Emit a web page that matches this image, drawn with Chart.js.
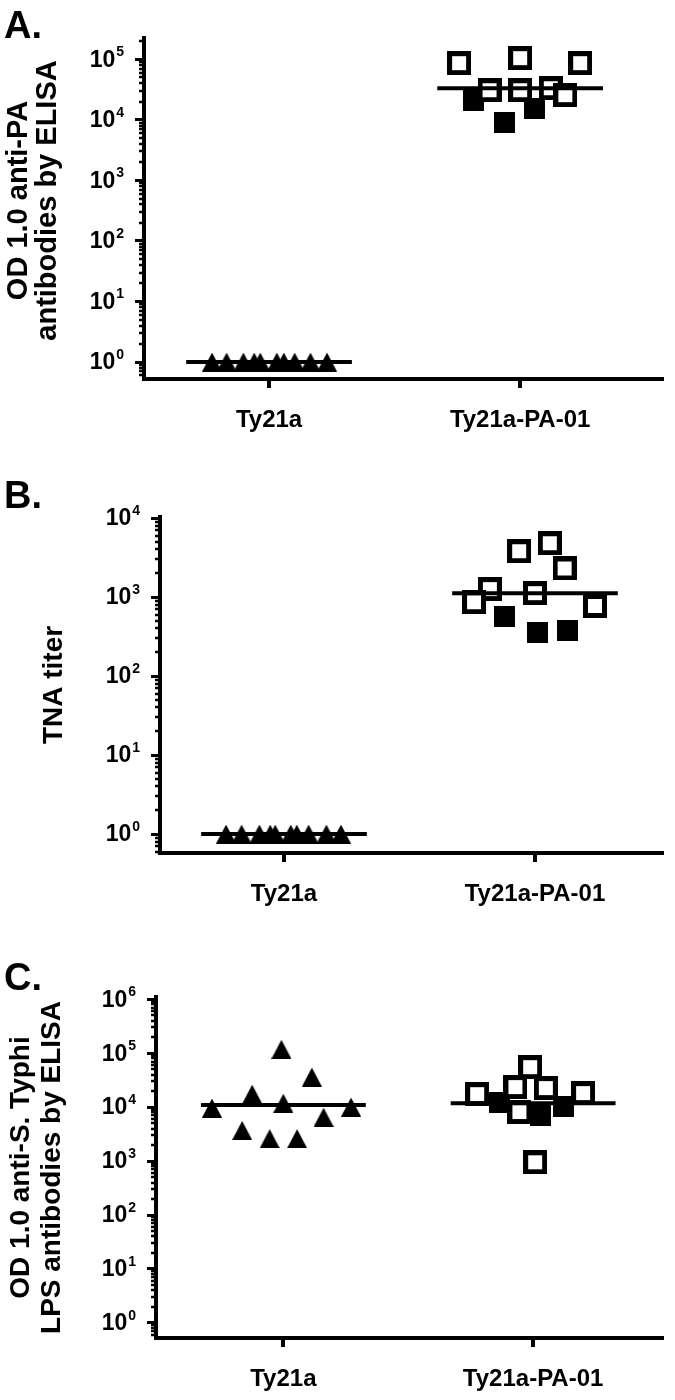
<!DOCTYPE html>
<html>
<head>
<meta charset="utf-8">
<title>Ty21a vs Ty21a-PA-01</title>
<script src="https://cdn.jsdelivr.net/npm/chart.js@4.4.1/dist/chart.umd.min.js"></script>
<style>
  html, body { margin: 0; padding: 0; background: #fff; }
  #wrap { position: relative; width: 675px; height: 1400px; overflow: hidden; }
  #wrap canvas { position: absolute; left: 0; }
</style>
</head>
<body>
<div id="wrap">
  <canvas id="chartA" width="675" height="450" style="top:0"></canvas>
  <canvas id="chartB" width="675" height="470" style="top:450px"></canvas>
  <canvas id="chartC" width="675" height="480" style="top:920px"></canvas>
</div>
<script>
'use strict';

// ---------- data ----------
const categories = ['Ty21a', 'Ty21a-PA-01'];

// A. OD 1.0 anti-PA antibodies (ELISA)
const aTy21a          = [1, 1, 1, 1, 1, 1, 1, 1, 1, 1];
const aTy21aJitter    = [-0.227, -0.169, -0.102, -0.059, -0.035, 0.031, 0.059, 0.102, 0.165, 0.231];
const aPaOpen         = [86000, 104000, 86000, 30800, 30800, 33200, 25500];
const aPaOpenJitter   = [-0.243, 0, 0.239, -0.122, 0, 0.122, 0.18];
const aPaFilled       = [21000, 9100, 15500];
const aPaFilledJitter = [-0.184, -0.063, 0.059];
const aMedians        = [1, 33200];
const aYTicks         = [1, 10, 100, 1000, 10000, 100000];
const aYRange         = [0.525, 224000];
const aXRange         = [0.502, 2.565];

// B. TNA titer
const bTy21a          = [1, 1, 1, 1, 1, 1, 1, 1, 1, 1];
const bTy21aJitter    = [-0.231, -0.169, -0.098, -0.055, -0.035, 0.027, 0.051, 0.098, 0.169, 0.227];
const bPaOpen         = [3800, 4800, 2300, 1260, 860, 1120, 770];
const bPaOpenJitter   = [-0.063, 0.059, 0.118, -0.18, -0.243, 0, 0.239];
const bPaFilled       = [575, 360, 380];
const bPaFilledJitter = [-0.122, 0.008, 0.129];
const bMedians        = [1, 1120];
const bYTicks         = [1, 10, 100, 1000, 10000];
const bYRange         = [0.575, 10300];
const bXRange         = [0.506, 2.506];

// C. OD 1.0 anti-S. Typhi LPS antibodies (ELISA)
const cTy21a          = [9600, 17400, 118000, 11800, 36000, 6500, 10000, 3700, 2600, 2600];
const cTy21aJitter    = [-0.286, -0.125, -0.008, 0, 0.114, 0.161, 0.271, -0.165, -0.055, 0.055];
const cPaOpen         = [17400, 55000, 23500, 22500, 18200, 8100, 950];
const cPaOpenJitter   = [-0.224, -0.012, -0.071, 0.051, 0.2, -0.055, 0.008];
const cPaFilled       = [12400, 7100, 10400];
const cPaFilledJitter = [-0.133, 0.031, 0.122];
const cMedians        = [11000, 11800];
const cYTicks         = [1, 10, 100, 1000, 10000, 100000, 1000000];
const cYRange         = [0.525, 1100000];
const cXRange         = [0.49, 2.516];

const FONT = "'Liberation Sans', Arial, Helvetica, sans-serif";

// ---------- marker images ----------
function makeImg(w, h, draw) {
  const c = document.createElement('canvas');
  c.width = w; c.height = h;
  draw(c.getContext('2d'), w, h);
  return c;
}
const TRIANGLE = makeImg(20, 19, (g, w, h) => {
  g.fillStyle = '#000';
  g.beginPath(); g.moveTo(0, h); g.lineTo(w / 2, 0); g.lineTo(w, h); g.closePath(); g.fill();
});
const SQ_OPEN = makeImg(24, 24, (g) => {
  g.fillStyle = '#000'; g.fillRect(0, 0, 24, 24);
  g.fillStyle = '#fff'; g.fillRect(5, 5, 14, 14);
});
const SQ_FILLED = makeImg(21, 21, (g) => { g.fillStyle = '#000'; g.fillRect(0, 0, 21, 21); });

function pts(cat, vals, jitter) {
  return vals.map((v, i) => ({ x: cat + jitter[i], y: v }));
}

function pointSet(data, img, order) {
  return { type: 'scatter', data, pointStyle: img, pointRadius: 12, pointHoverRadius: 12, order };
}

const HALF = 0.33; // half width of median bar (category units)
function medianSet(cat, m) {
  return {
    type: 'line', data: [{ x: cat - HALF, y: m }, { x: cat + HALF, y: m }],
    borderColor: '#000', borderWidth: 4, pointRadius: 0, fill: false, order: 0
  };
}

// ---------- axis labels, minor ticks, panel letters ----------
const panelDecor = {
  id: 'panelDecor',
  afterDraw(chart, args, opts) {
    const { ctx, chartArea } = chart;
    const ys = chart.scales.y;
    const left = chartArea.left;
    ctx.save();
    ctx.fillStyle = '#000';
    ctx.strokeStyle = '#000';

    // minor ticks (2..9 x 10^k)
    ctx.lineWidth = 2.5;
    const lo = Math.floor(Math.log10(ys.min));
    const hi = Math.ceil(Math.log10(ys.max));
    for (let k = lo; k <= hi; k++) {
      for (let m = 2; m <= 9; m++) {
        const v = m * Math.pow(10, k);
        if (v < ys.min || v > ys.max) continue;
        const py = Math.round(ys.getPixelForValue(v));
        ctx.beginPath(); ctx.moveTo(left - 5, py); ctx.lineTo(left, py); ctx.stroke();
      }
    }

    // tick labels 10^n
    opts.yTicks.forEach((v) => {
      const py = ys.getPixelForValue(v);
      const e = String(Math.round(Math.log10(v)));
      ctx.font = `bold 14px ${FONT}`;
      const ew = ctx.measureText(e).width;
      ctx.textAlign = 'right';
      ctx.textBaseline = 'alphabetic';
      const xr = left - 20;
      ctx.fillText(e, xr, py - 3);
      ctx.font = `bold 23px ${FONT}`;
      ctx.textBaseline = 'middle';
      ctx.fillText('10', xr - ew - 1, py + 1);
    });

    // y title
    ctx.font = `bold ${opts.titleSize}px ${FONT}`;
    ctx.textAlign = 'center';
    ctx.textBaseline = 'middle';
    const cy = (chartArea.top + chartArea.bottom) / 2 + (opts.titleShift || 0);
    opts.title.forEach((line, i) => {
      ctx.save();
      ctx.translate(opts.titleX[i], cy);
      ctx.rotate(-Math.PI / 2);
      ctx.fillText(line, 0, 0);
      ctx.restore();
    });

    // panel letter
    ctx.font = `bold 38px ${FONT}`;
    ctx.textAlign = 'left';
    ctx.textBaseline = 'alphabetic';
    ctx.fillText(opts.letter, 4, opts.letterY);
    ctx.restore();
  }
};

function buildPanel(id, p) {
  const datasets = [
    medianSet(1, p.medians[0]),
    medianSet(2, p.medians[1]),
    pointSet(pts(1, p.ty21a, p.ty21aJitter), TRIANGLE, 1),
    pointSet(pts(2, p.paOpen, p.paOpenJitter), SQ_OPEN, 2),
    pointSet(pts(2, p.paFilled, p.paFilledJitter), SQ_FILLED, 3)
  ];
  return new Chart(document.getElementById(id), {
    type: 'scatter',
    data: { datasets },
    options: {
      responsive: false,
      animation: false,
      devicePixelRatio: 1,
      layout: { padding: { left: 0, right: p.padRight, top: p.padTop, bottom: 0 } },
      plugins: {
        legend: { display: false },
        tooltip: { enabled: false },
        panelDecor: { yTicks: p.yTicks, title: p.title, titleX: p.titleX, titleSize: p.titleSize,
                      titleShift: p.titleShift, letter: p.letter, letterY: p.letterY }
      },
      scales: {
        x: {
          type: 'linear', min: p.xRange[0], max: p.xRange[1],
          afterBuildTicks: (s) => { s.ticks = [{ value: 1 }, { value: 2 }]; },
          afterFit: (s) => { s.height = p.bottomH; },
          ticks: {
            callback: (v) => categories[Math.round(v) - 1] || '',
            font: { family: FONT, weight: 'bold', size: 24 },
            color: '#000', padding: 18, maxRotation: 0, autoSkip: false
          },
          grid: { drawOnChartArea: false, drawTicks: true, tickLength: 9, lineWidth: 4, color: '#000' },
          border: { display: true, width: 4, color: '#000' }
        },
        y: {
          type: 'logarithmic', min: p.yRange[0], max: p.yRange[1],
          afterBuildTicks: (s) => { s.ticks = p.yTicks.map((v) => ({ value: v, major: true })); },
          afterFit: (s) => { s.width = p.leftW; },
          ticks: { display: false },
          grid: { drawOnChartArea: false, drawTicks: true, tickLength: 9, lineWidth: 3, color: '#000' },
          border: { display: true, width: 4, color: '#000' }
        }
      }
    },
    plugins: [panelDecor]
  });
}

buildPanel('chartA', {
  ty21a: aTy21a, ty21aJitter: aTy21aJitter, paOpen: aPaOpen, paOpenJitter: aPaOpenJitter,
  paFilled: aPaFilled, paFilledJitter: aPaFilledJitter, medians: aMedians,
  yTicks: aYTicks, yRange: aYRange, xRange: aXRange,
  title: ['OD 1.0 anti-PA', 'antibodies by ELISA'], titleX: [19, 48], titleSize: 29, titleShift: -8,
  letter: 'A.', letterY: 38,
  leftW: 144, padRight: 5, padTop: 38, bottomH: 71
});

buildPanel('chartB', {
  ty21a: bTy21a, ty21aJitter: bTy21aJitter, paOpen: bPaOpen, paOpenJitter: bPaOpenJitter,
  paFilled: bPaFilled, paFilledJitter: bPaFilledJitter, medians: bMedians,
  yTicks: bYTicks, yRange: bYRange, xRange: bXRange,
  title: ['TNA titer'], titleX: [54], titleSize: 28, titleShift: 0,
  letter: 'B.', letterY: 58,
  leftW: 160, padRight: 5, padTop: 67, bottomH: 67
});

buildPanel('chartC', {
  ty21a: cTy21a, ty21aJitter: cTy21aJitter, paOpen: cPaOpen, paOpenJitter: cPaOpenJitter,
  paFilled: cPaFilled, paFilledJitter: cPaFilledJitter, medians: cMedians,
  yTicks: cYTicks, yRange: cYRange, xRange: cXRange,
  title: ['OD 1.0 anti-S. Typhi', 'LPS antibodies by ELISA'], titleX: [21, 52], titleSize: 28, titleShift: 0,
  letter: 'C.', letterY: 70,
  leftW: 156, padRight: 3, padTop: 77, bottomH: 62
});
</script>
</body>
</html>
